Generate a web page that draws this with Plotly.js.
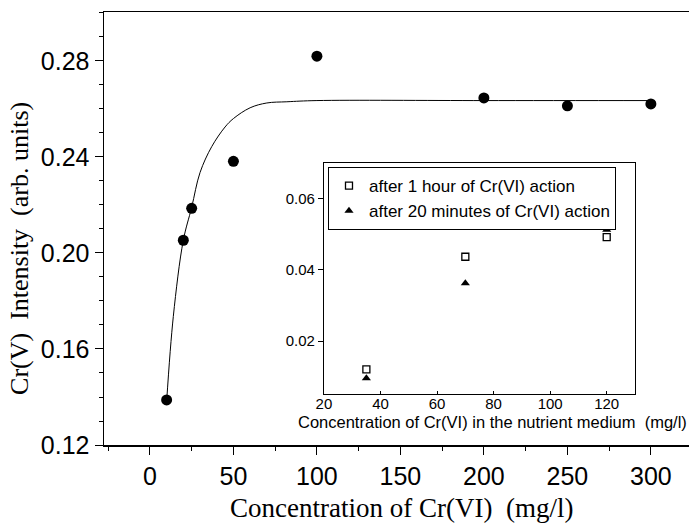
<!DOCTYPE html>
<html>
<head>
<meta charset="utf-8">
<script src="https://cdn.plot.ly/plotly-3.0.1.min.js"></script>
<style>html,body{margin:0;padding:0;background:#fff;overflow:hidden;width:689px;height:523px;}</style>
</head>
<body>
<div id="chart" style="width:705px;height:523px;"></div>
<script>
// Main chart data
const mainX = [10, 20, 25, 50, 100, 200, 250, 300];
const mainY = [0.1388, 0.2053, 0.2186, 0.2382, 0.282, 0.2646, 0.2613, 0.2621];
// Fitted curve
const fitX = [10, 14, 20, 25, 30, 37, 45, 50, 60, 70, 82, 100, 200, 300];
const fitY = [0.138, 0.1735, 0.2053, 0.219, 0.2335, 0.2443, 0.2525, 0.256, 0.2605, 0.2625, 0.263, 0.2635, 0.2635, 0.2635];
// Inset data
const insetX = [35, 70, 120];
const inset1h = [0.0121, 0.0437, 0.0492];
const inset20m = [0.0096, 0.0363, 0.0513];
const insetNames = ["after 1 hour of Cr(VI) action", "after 20 minutes of Cr(VI) action"];
// Ticks
const mainXTicks = [0, 50, 100, 150, 200, 250, 300];
const mainYTicks = [0.12, 0.16, 0.20, 0.24, 0.28];
const insetXTicks = [20, 40, 60, 80, 100, 120];
const insetYTicks = [0.02, 0.04, 0.06];

const sans = "Liberation Sans, Arial, sans-serif";
const serif = "Liberation Serif, Times New Roman, serif";

const traces = [
  {x: fitX, y: fitY, mode: 'lines', line: {color: 'black', width: 1, shape: 'spline'}, showlegend: false, xaxis: 'x', yaxis: 'y', hoverinfo: 'skip'},
  {x: mainX, y: mainY, mode: 'markers', marker: {color: 'black', size: 11, symbol: 'circle'}, showlegend: false, xaxis: 'x', yaxis: 'y'},
  {x: insetX, y: inset1h, name: insetNames[0], mode: 'markers', marker: {symbol: 'square-open', size: 7, color: 'black', line: {width: 1.3, color: 'black'}}, xaxis: 'x2', yaxis: 'y2'},
  {x: insetX, y: inset20m, name: insetNames[1], mode: 'markers', marker: {symbol: 'triangle-up', size: 8, color: 'black'}, xaxis: 'x2', yaxis: 'y2'}
];

const layout = {
  width: 705, height: 523,
  margin: {l: 104, r: 0, t: 12, b: 78},
  paper_bgcolor: 'white', plot_bgcolor: 'white',
  showlegend: true,
  legend: {x: 0.3727, y: 0.642, xanchor: 'left', yanchor: 'top', bgcolor: 'white', bordercolor: 'black', borderwidth: 1, font: {family: sans, size: 17, color: 'black'}, tracegroupgap: 0},
  xaxis: {
    range: [-27.5, 332.4], tickvals: mainXTicks, ticks: 'outside', ticklen: 8, tickwidth: 1, tickcolor: 'black',
    showline: true, linecolor: 'black', linewidth: 1.5, mirror: true, showgrid: false, zeroline: false,
    tickfont: {family: sans, size: 25, color: 'black'},
    minor: {dtick: 25, tick0: 0, ticks: 'outside', ticklen: 4, tickcolor: 'black', showgrid: false},
    domain: [0, 1]
  },
  yaxis: {
    range: [0.12, 0.3004], tickvals: mainYTicks, tickformat: '.2f', ticks: 'outside', ticklen: 8, tickwidth: 1, tickcolor: 'black',
    showline: true, linecolor: 'black', linewidth: 1.5, mirror: false, showgrid: false, zeroline: false,
    tickfont: {family: sans, size: 25, color: 'black'},
    minor: {dtick: 0.01, tick0: 0.12, ticks: 'outside', ticklen: 4, tickcolor: 'black', showgrid: false},
    domain: [0, 1]
  },
  xaxis2: {
    anchor: 'y2', domain: [0.366, 0.8835], range: [20, 130], tickvals: insetXTicks, ticks: 'inside', ticklen: 3, tickcolor: 'black',
    showline: true, linecolor: 'black', linewidth: 1, mirror: true, showgrid: false, zeroline: false,
    ticklabelstandoff: -4,
    tickfont: {family: sans, size: 15, color: 'black'}
  },
  yaxis2: {
    anchor: 'x2', domain: [0.1178, 0.6513], range: [0.0052, 0.070], tickvals: insetYTicks, tickformat: '.2f', ticks: 'outside', ticklen: 5, tickcolor: 'black',
    showline: true, linecolor: 'black', linewidth: 1, mirror: true, showgrid: false, zeroline: false,
    tickfont: {family: sans, size: 15, color: 'black'}
  },
  annotations: [
    {text: 'Cr(V)  Intensity  (arb. units)', textangle: -90, xref: 'paper', yref: 'paper', x: -0.1398, y: 0.455, xanchor: 'center', yanchor: 'middle', showarrow: false, font: {family: serif, size: 26, color: 'black'}},
    {text: 'Concentration of Cr(VI)  (mg/l)', xref: 'paper', yref: 'paper', x: 0.4958, y: -0.1455, xanchor: 'center', yanchor: 'middle', showarrow: false, font: {family: serif, size: 27, color: 'black'}},
    {text: 'Concentration of Cr(VI) in the nutrient medium  (mg/l)', xref: 'paper', yref: 'paper', x: 0.6456, y: 0.052, xanchor: 'center', yanchor: 'middle', showarrow: false, font: {family: sans, size: 16.5, color: 'black'}}
  ]
};

Plotly.newPlot('chart', traces, layout, {displayModeBar: false, staticPlot: true});
</script>
</body>
</html>
